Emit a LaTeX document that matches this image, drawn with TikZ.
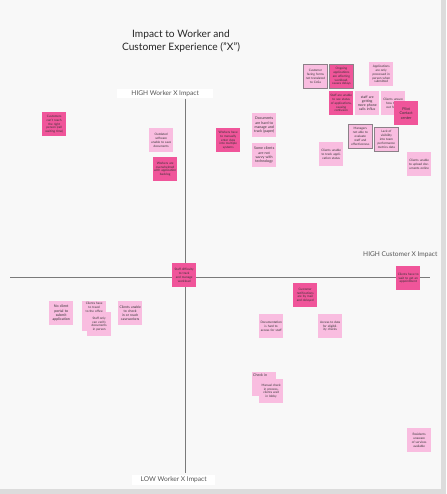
\documentclass[tikz,border=0pt]{standalone}
\usepackage{fontspec}
\setmainfont{Lato}
\definecolor{hotpink}{HTML}{F0559A}
\definecolor{lightpink}{HTML}{F9BDE0}
\definecolor{pickgray}{HTML}{8C8088}
\definecolor{axisgray}{HTML}{7A7A7A}
\definecolor{labelgray}{HTML}{555555}
\definecolor{canvas}{HTML}{F8F8F8}
\definecolor{framegray}{HTML}{DCDCDC}
\begin{document}
\begin{tikzpicture}[x=1pt,y=-1pt,
  note/.style={minimum width=24pt,minimum height=24pt,inner sep=1pt,
    text width=22pt,align=center,anchor=north west,text=black!80,
    font=\fontsize{3.1}{3.8}\selectfont},
  hot/.style={note,fill=hotpink},
  light/.style={note,fill=lightpink},
  picked/.style={draw=pickgray,line width=0.8pt},
  axis/.style={draw=axisgray,line width=0.9pt},
  axislabel/.style={fill=white,text=labelgray,inner sep=2pt,
    font=\fontsize{6.6}{8}\selectfont}]

% board and frame
\useasboundingbox (0,0) rectangle (446,494);
\fill[framegray] (0,0) rectangle (446,494);
\fill[canvas] (0,0) rectangle (441,489);

% title
\node[align=center,text=black!85,font=\fontsize{10.2}{13}\selectfont] (title) at (181,41)
  {Impact to Worker and\\Customer Experience ("X")};

% axes
\coordinate (vtop) at (185,99);
\coordinate (vbot) at (185,473);
\coordinate (hleft) at (10,277);
\coordinate (hright) at (430,277);
\draw[axis] (vtop) -- (vbot);
\draw[axis] (hleft) -- (hright);
\node[axislabel,minimum width=96pt,anchor=west] (hiw) at (117,93.5) {HIGH Worker X Impact};
\node[axislabel,minimum width=83pt,anchor=west] (low) at (132,480) {LOW Worker X Impact};
\node[text=labelgray,font=\fontsize{6.6}{8}\selectfont,anchor=west,inner sep=0pt] (hic) at (363,255) {HIGH Customer X Impact};

% upper right quadrant
\node[light,picked] (n1) at (303,64) {Customer facing forms not translated to CoSa};
\node[hot,picked] (n2) at (329,64) {Ongoing applications are affecting workload, causes delays};
\node[light] (n3) at (369,62) {Applications are only processed in person when submitted};
\node[hot] (n4) at (329,91) {Staff are unable to see status of applications, causing confusion};
\node[light,font=\fontsize{3.5}{4.2}\selectfont] (n5) at (355,91) {staff are getting more phone calls influx};
\node[light] (n6) at (381,91) {Clients unsure how to fill out forms};
\node[hot,font=\fontsize{3.8}{4.5}\selectfont] (n7) at (394,101) {Pilot Contact center};
\node[light,picked] (n8) at (348,124) {Managers not able to evaluate staff and effectiveness};
\node[light,picked] (n9) at (374,127) {Lack of visibility into team performance metrics data};
\node[light] (n10) at (319,142) {Clients unable to track application status};
\node[light] (n11) at (407,152) {Clients unable to upload documents online};
\node[hot] (n12) at (216,128) {Workers have to manually enter data into multiple systems};
\node[light,font=\fontsize{3.6}{4.3}\selectfont] (n13) at (252,113) {Documents are hard to manage and track (paper)};
\node[light,font=\fontsize{3.6}{4.3}\selectfont] (n14) at (252,143) {Some clients are not savvy with technology};

% upper left quadrant
\node[hot] (n15) at (42,112) {Customers can't reach the right person (call waiting time)};
\node[light] (n16) at (149,128) {Outdated software unable to save documents};
\node[hot] (n17) at (153,157) {Workers are overwhelmed with application backlog};

% centre and right edge
\node[hot] (n18) at (172,263) {Staff difficulty to track and manage workload};
\node[hot] (n19) at (396,266) {Clients have to wait to get an appointment};

% lower left quadrant
\node[light,font=\fontsize{3.6}{4.3}\selectfont] (n20) at (49,301) {No client portal to submit application};
\node[light] (n21) at (82,301) {Clients have to travel\\to the office\\[14pt]\mbox{}};
\node[light] (n22) at (87,312) {Staff only can verify documents in person};
\node[light,font=\fontsize{3.4}{4.1}\selectfont] (n23) at (118,301) {Clients unable to check in or reach caseworkers};

% lower right quadrant
\node[hot] (n24) at (293,283) {Customer notifications are by mail and delayed};
\node[light] (n25) at (259,314) {Documentation is hard to access for staff};
\node[light] (n26) at (318,314) {Access to data for eligibility checks};
\node[light,font=\fontsize{3.6}{4.3}\selectfont,align=left] (n27) at (252,372) {Check in\\[13pt]\mbox{}};
\node[light] (n28) at (259,379) {Manual check in process, clients wait in lobby};
\node[light] (n29) at (407,428) {Residents unaware of services available};

\end{tikzpicture}
\end{document}
